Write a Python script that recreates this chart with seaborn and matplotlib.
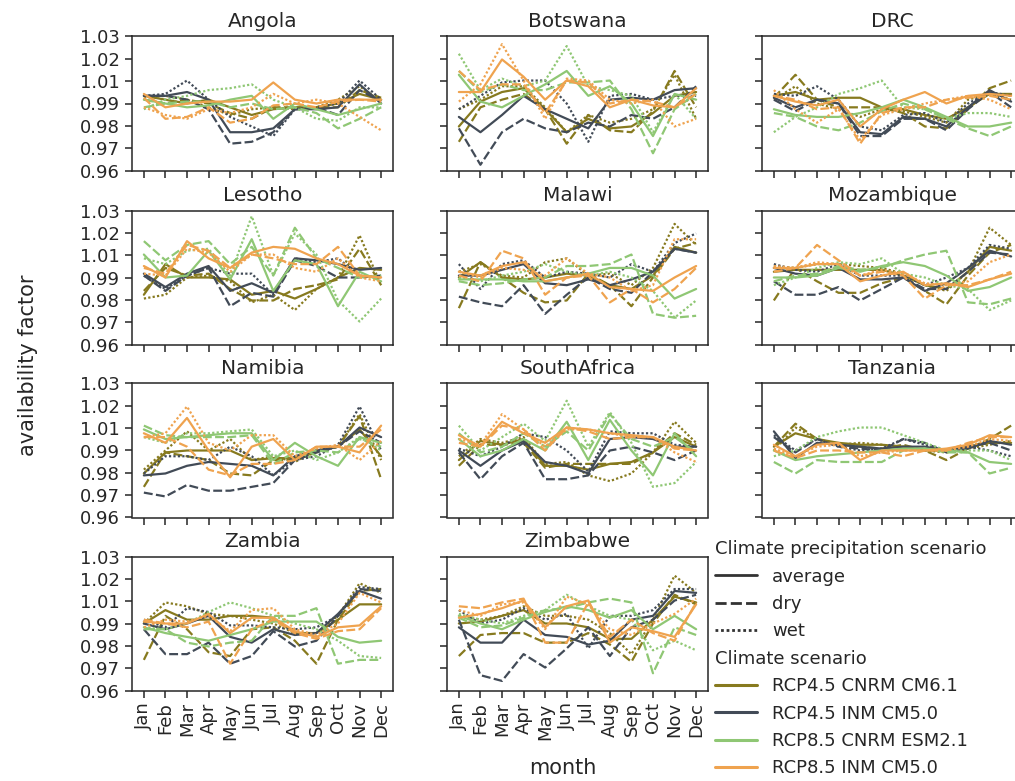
import matplotlib
matplotlib.use("Agg")
import matplotlib.pyplot as plt
import matplotlib.offsetbox as moff
from matplotlib.lines import Line2D
import numpy as np
import pandas as pd
import seaborn as sns

# ---------------- data ----------------
months = ["Jan", "Feb", "Mar", "Apr", "May", "Jun",
          "Jul", "Aug", "Sep", "Oct", "Nov", "Dec"]
countries = ["Angola", "Botswana", "DRC", "Lesotho", "Malawi", "Mozambique",
             "Namibia", "SouthAfrica", "Tanzania", "Zambia", "Zimbabwe"]
scenarios = ["RCP4.5 CNRM CM6.1", "RCP4.5 INM CM5.0",
             "RCP8.5 CNRM ESM2.1", "RCP8.5 INM CM5.0"]
precips = ["average", "dry", "wet"]
ytick_labels = ["0.96", "0.97", "0.98", "0.99", "1.01", "1.02", "1.03"]

# keys: (scenario index, precipitation)
angola = {
    (0, "average"): [0.999, 0.997, 0.995, 0.997, 0.993, 0.989, 0.992, 0.993, 0.993, 0.995, 1.000, 0.997],
    (0, "dry"):     [0.997, 0.995, 0.997, 0.995, 0.990, 0.987, 0.993, 0.993, 0.993, 0.993, 1.002, 0.998],
    (0, "wet"):     [0.998, 0.999, 0.997, 0.993, 0.989, 0.992, 0.993, 0.992, 0.993, 0.997, 1.004, 0.996],
    (1, "average"): [0.999, 0.999, 1.001, 0.997, 0.980, 0.980, 0.982, 0.992, 0.992, 0.993, 1.005, 0.995],
    (1, "dry"):     [0.999, 0.999, 0.997, 0.992, 0.974, 0.975, 0.980, 0.992, 0.993, 0.989, 1.002, 0.996],
    (1, "wet"):     [0.999, 1.000, 1.007, 0.997, 0.988, 0.983, 0.978, 0.992, 0.993, 0.995, 1.007, 0.997],
    (2, "average"): [0.997, 0.995, 0.993, 0.994, 0.997, 0.999, 0.987, 0.995, 0.992, 0.989, 0.992, 0.995],
    (2, "dry"):     [0.993, 0.995, 0.996, 0.996, 0.993, 0.995, 0.992, 0.993, 0.990, 0.982, 0.987, 0.993],
    (2, "wet"):     [0.992, 0.997, 0.999, 1.002, 1.003, 1.005, 0.997, 0.993, 0.987, 0.986, 0.993, 0.993],
    (3, "average"): [1.000, 0.993, 0.995, 0.996, 0.996, 0.997, 1.006, 0.997, 0.995, 0.997, 0.997, 0.997],
    (3, "dry"):     [0.998, 0.987, 0.988, 0.993, 0.985, 0.987, 0.994, 0.995, 0.993, 0.996, 0.997, 0.996],
    (3, "wet"):     [0.993, 0.989, 0.987, 0.992, 0.990, 0.993, 1.000, 0.995, 0.997, 0.995, 0.988, 0.981],
}
botswana = {
    (0, "average"): [0.983, 0.996, 1.001, 1.003, 0.992, 0.980, 0.987, 0.982, 0.983, 0.990, 0.999, 1.001],
    (0, "dry"):     [0.975, 0.993, 0.997, 1.000, 0.992, 0.974, 0.989, 0.981, 0.980, 0.991, 1.012, 0.993],
    (0, "wet"):     [0.992, 0.997, 1.004, 1.004, 0.993, 0.980, 0.989, 0.985, 0.987, 0.992, 1.010, 0.987],
    (1, "average"): [0.988, 0.980, 0.989, 0.999, 0.992, 0.987, 0.982, 0.997, 0.998, 0.997, 1.002, 1.003],
    (1, "dry"):     [0.982, 0.963, 0.980, 0.987, 0.982, 0.980, 0.985, 0.983, 0.989, 0.987, 0.993, 1.004],
    (1, "wet"):     [0.992, 0.999, 1.006, 1.007, 1.007, 0.995, 0.975, 0.999, 1.000, 0.997, 0.999, 0.999],
    (2, "average"): [1.010, 0.996, 0.993, 0.999, 1.005, 1.012, 0.999, 1.004, 0.995, 0.978, 1.000, 0.997],
    (2, "dry"):     [1.012, 1.001, 1.005, 1.002, 1.002, 1.006, 1.006, 1.007, 0.992, 0.969, 0.992, 1.000],
    (2, "wet"):     [1.021, 1.002, 1.008, 1.004, 1.007, 1.025, 1.004, 1.002, 0.999, 0.980, 1.000, 0.987],
    (3, "average"): [1.001, 1.001, 1.018, 1.009, 0.997, 1.007, 1.004, 0.993, 0.997, 0.994, 0.993, 1.003],
    (3, "dry"):     [1.012, 1.002, 1.005, 1.005, 0.990, 1.007, 1.006, 0.995, 0.997, 0.996, 0.993, 1.000],
    (3, "wet"):     [0.996, 1.005, 1.026, 1.007, 0.987, 1.008, 1.007, 0.997, 0.995, 0.997, 0.983, 0.987],
}
drc = {
    (0, "average"): [0.999, 1.001, 0.997, 0.998, 0.998, 0.993, 0.992, 0.989, 0.987, 0.993, 1.000, 1.000],
    (0, "dry"):     [0.998, 1.010, 0.997, 0.993, 0.993, 0.993, 0.990, 0.983, 0.982, 0.992, 1.003, 1.007],
    (0, "wet"):     [0.997, 1.004, 0.995, 0.992, 0.988, 0.992, 0.991, 0.988, 0.985, 0.997, 1.000, 0.997],
    (1, "average"): [0.998, 0.993, 0.997, 0.995, 0.980, 0.979, 0.988, 0.987, 0.983, 0.993, 1.002, 0.996],
    (1, "dry"):     [0.997, 0.991, 0.997, 0.995, 0.978, 0.978, 0.987, 0.987, 0.981, 0.992, 1.001, 0.993],
    (1, "wet"):     [1.000, 0.999, 1.004, 0.997, 0.983, 0.981, 0.989, 0.990, 0.985, 0.995, 1.001, 0.999],
    (2, "average"): [0.992, 0.989, 0.988, 0.988, 0.990, 0.993, 0.997, 0.993, 0.988, 0.983, 0.983, 0.985],
    (2, "dry"):     [0.990, 0.988, 0.983, 0.981, 0.985, 0.991, 0.995, 0.992, 0.987, 0.982, 0.978, 0.983],
    (2, "wet"):     [0.980, 0.988, 0.993, 1.000, 1.003, 1.007, 0.993, 0.992, 0.987, 0.990, 0.990, 0.988],
    (3, "average"): [0.999, 0.996, 0.994, 0.997, 0.983, 0.992, 0.997, 1.001, 0.995, 0.999, 1.000, 0.999],
    (3, "dry"):     [0.999, 0.997, 0.992, 0.993, 0.974, 0.990, 0.993, 0.993, 0.997, 0.998, 0.999, 0.997],
    (3, "wet"):     [1.002, 0.992, 0.985, 0.992, 0.976, 0.989, 0.992, 0.995, 0.997, 0.999, 0.997, 0.992],
}
lesotho = {
    (0, "average"): [0.986, 1.002, 0.995, 0.995, 0.994, 0.986, 0.988, 0.984, 0.989, 0.995, 1.000, 0.999],
    (0, "dry"):     [0.988, 1.000, 0.996, 0.997, 0.989, 0.983, 0.983, 0.989, 0.991, 0.994, 1.010, 0.991],
    (0, "wet"):     [0.984, 0.986, 0.995, 0.996, 0.993, 0.982, 0.986, 0.978, 0.989, 0.995, 1.017, 0.991],
    (1, "average"): [0.997, 0.990, 0.997, 1.001, 0.988, 0.992, 0.987, 1.005, 1.004, 1.002, 0.999, 1.000],
    (1, "dry"):     [0.996, 0.988, 0.996, 1.000, 0.980, 0.987, 0.985, 1.004, 1.001, 0.995, 0.995, 0.996],
    (1, "wet"):     [0.996, 0.989, 0.996, 1.000, 0.997, 0.997, 0.986, 1.005, 1.003, 1.005, 0.996, 0.995],
    (2, "average"): [1.007, 0.995, 0.996, 1.009, 0.994, 1.015, 0.988, 1.004, 1.002, 0.980, 0.998, 0.993],
    (2, "dry"):     [1.014, 1.004, 1.012, 1.014, 1.002, 1.011, 0.996, 1.021, 1.005, 1.000, 0.995, 0.996],
    (2, "wet"):     [1.005, 1.002, 1.009, 1.010, 0.996, 1.027, 0.996, 1.018, 1.007, 0.983, 0.972, 0.984],
    (3, "average"): [1.001, 0.995, 1.014, 1.005, 1.000, 1.008, 1.011, 1.010, 1.005, 1.002, 0.996, 0.995],
    (3, "dry"):     [1.000, 0.997, 1.012, 1.009, 1.000, 1.007, 1.005, 1.002, 1.002, 1.011, 0.996, 0.995],
    (3, "wet"):     [0.997, 0.996, 1.010, 1.008, 0.998, 1.007, 1.007, 1.000, 0.998, 1.005, 0.995, 0.993],
}
malawi = {
    (0, "average"): [0.995, 1.003, 0.995, 0.994, 0.995, 0.997, 0.996, 0.991, 0.989, 0.996, 1.011, 1.008],
    (0, "dry"):     [0.979, 1.003, 0.995, 0.987, 0.982, 0.983, 0.997, 0.991, 0.980, 0.995, 1.010, 1.013],
    (0, "wet"):     [0.998, 1.002, 0.996, 0.995, 1.003, 1.005, 0.996, 0.997, 0.991, 1.000, 1.023, 1.012],
    (1, "average"): [0.996, 0.996, 0.999, 1.002, 0.992, 0.991, 0.994, 0.991, 0.994, 0.998, 1.010, 1.008],
    (1, "dry"):     [0.985, 0.982, 0.980, 0.991, 0.976, 0.986, 0.995, 0.989, 0.987, 0.998, 1.010, 1.008],
    (1, "wet"):     [1.002, 0.989, 1.002, 1.004, 0.995, 0.998, 0.997, 0.995, 1.002, 0.998, 1.013, 1.018],
    (2, "average"): [0.994, 0.994, 0.994, 0.993, 0.993, 0.995, 0.997, 1.000, 1.000, 0.996, 0.984, 0.989],
    (2, "dry"):     [0.993, 0.991, 0.992, 0.994, 0.995, 1.001, 1.001, 1.002, 1.007, 0.976, 0.974, 0.975],
    (2, "wet"):     [0.995, 0.993, 0.996, 0.998, 1.002, 0.998, 0.996, 0.998, 0.995, 0.988, 0.974, 0.983],
    (3, "average"): [0.998, 0.996, 1.001, 1.003, 0.993, 0.995, 0.997, 0.990, 0.989, 0.988, 0.995, 1.001],
    (3, "dry"):     [0.996, 0.993, 1.009, 1.005, 0.986, 0.995, 0.996, 0.982, 0.989, 0.982, 0.989, 1.000],
    (3, "wet"):     [0.998, 0.995, 1.000, 0.999, 0.996, 1.005, 0.997, 0.995, 0.988, 0.991, 1.015, 1.015],
}
mozambique = {
    (0, "average"): [0.998, 0.999, 0.999, 0.999, 0.999, 0.999, 0.996, 0.991, 0.989, 0.998, 1.011, 1.009],
    (0, "dry"):     [0.983, 1.000, 0.993, 0.987, 0.987, 0.992, 0.995, 0.988, 0.981, 0.996, 1.008, 1.012],
    (0, "wet"):     [1.001, 1.000, 1.002, 1.002, 1.001, 1.000, 0.997, 0.991, 0.988, 0.998, 1.021, 1.012],
    (1, "average"): [1.000, 0.997, 0.996, 1.000, 0.994, 0.994, 0.995, 0.988, 0.992, 1.000, 1.009, 1.006],
    (1, "dry"):     [0.993, 0.986, 0.986, 0.990, 0.983, 0.989, 0.995, 0.989, 0.989, 0.998, 1.008, 1.007],
    (1, "wet"):     [1.002, 0.999, 0.998, 1.002, 0.996, 0.996, 0.996, 0.991, 0.995, 1.000, 1.012, 1.010],
    (2, "average"): [0.995, 0.995, 0.996, 1.000, 0.998, 1.001, 1.003, 1.001, 0.996, 0.988, 0.990, 0.995],
    (2, "dry"):     [0.993, 0.996, 0.997, 1.001, 0.999, 1.000, 1.004, 1.007, 1.009, 0.982, 0.981, 0.984],
    (2, "wet"):     [0.991, 0.995, 1.000, 1.003, 1.002, 1.005, 0.997, 0.995, 0.991, 0.989, 0.978, 0.983],
    (3, "average"): [1.000, 1.000, 1.002, 1.002, 0.993, 0.996, 0.998, 0.991, 0.992, 0.990, 0.994, 0.997],
    (3, "dry"):     [0.998, 1.000, 1.012, 1.004, 0.996, 0.998, 0.996, 0.984, 0.991, 0.991, 0.994, 0.998],
    (3, "wet"):     [1.001, 1.000, 1.003, 1.002, 0.996, 0.999, 0.997, 0.992, 0.991, 0.993, 1.003, 1.007],
}
namibia = {
    (0, "average"): [0.983, 0.994, 0.995, 0.995, 0.995, 0.990, 0.991, 0.991, 0.995, 0.997, 1.006, 0.992],
    (0, "dry"):     [0.976, 0.994, 0.992, 0.990, 0.983, 0.982, 0.990, 0.990, 0.994, 0.997, 1.013, 0.980],
    (0, "wet"):     [0.985, 0.995, 1.005, 0.995, 1.001, 0.990, 0.992, 0.989, 0.995, 0.997, 1.014, 0.990],
    (1, "average"): [0.982, 0.983, 0.987, 0.989, 0.988, 0.987, 0.982, 0.992, 0.995, 0.997, 1.007, 1.002],
    (1, "dry"):     [0.973, 0.971, 0.977, 0.974, 0.974, 0.976, 0.978, 0.990, 0.994, 0.997, 1.005, 0.999],
    (1, "wet"):     [0.983, 0.992, 0.992, 0.990, 0.997, 0.992, 0.982, 0.990, 0.992, 0.998, 1.018, 0.995],
    (2, "average"): [1.006, 1.001, 1.002, 1.003, 1.004, 1.004, 0.990, 0.999, 0.992, 0.987, 1.002, 0.999],
    (2, "dry"):     [1.008, 1.003, 1.002, 1.002, 1.002, 1.003, 0.988, 0.994, 0.995, 0.994, 1.001, 0.997],
    (2, "wet"):     [1.002, 0.999, 1.004, 1.004, 1.005, 1.006, 0.992, 0.995, 0.990, 0.994, 1.002, 0.995],
    (3, "average"): [1.004, 0.999, 1.012, 0.995, 0.981, 0.997, 1.001, 0.990, 0.997, 0.997, 0.994, 1.008],
    (3, "dry"):     [1.002, 1.002, 0.997, 0.985, 0.982, 0.988, 0.988, 0.990, 0.997, 0.997, 0.997, 1.006],
    (3, "wet"):     [1.002, 1.004, 1.018, 0.999, 0.995, 1.003, 1.003, 0.992, 0.996, 0.998, 0.990, 1.000],
}
southafrica = {
    (0, "average"): [0.990, 1.000, 0.998, 1.001, 0.987, 0.987, 0.985, 0.988, 0.989, 0.994, 1.002, 0.997],
    (0, "dry"):     [0.987, 0.998, 0.998, 0.999, 0.986, 0.988, 0.988, 0.988, 0.988, 0.994, 1.004, 0.998],
    (0, "wet"):     [0.992, 1.001, 0.999, 1.002, 0.988, 0.989, 0.982, 0.979, 0.983, 0.994, 1.010, 0.999],
    (1, "average"): [0.995, 0.987, 0.995, 1.000, 0.989, 0.987, 0.983, 1.001, 1.002, 1.001, 0.997, 0.997],
    (1, "dry"):     [0.994, 0.980, 0.992, 0.999, 0.980, 0.980, 0.982, 0.995, 0.997, 0.994, 0.990, 0.995],
    (1, "wet"):     [0.996, 0.992, 0.997, 1.004, 1.002, 0.995, 0.984, 1.005, 1.004, 1.004, 0.998, 0.997],
    (2, "average"): [1.001, 0.992, 0.995, 1.001, 0.995, 1.010, 0.990, 1.011, 0.995, 0.982, 1.004, 0.992],
    (2, "dry"):     [1.004, 0.994, 0.997, 1.004, 0.997, 1.005, 0.995, 1.014, 1.001, 0.997, 1.002, 0.994],
    (2, "wet"):     [1.008, 0.995, 1.002, 1.009, 1.000, 1.021, 0.997, 1.015, 0.999, 0.976, 0.978, 0.989],
    (3, "average"): [1.003, 0.997, 1.010, 1.004, 0.999, 1.007, 1.006, 1.004, 1.003, 1.002, 0.997, 0.995],
    (3, "dry"):     [0.999, 0.997, 1.008, 1.006, 0.995, 1.007, 1.005, 1.001, 1.002, 1.002, 0.996, 0.995],
    (3, "wet"):     [1.001, 0.998, 1.014, 1.006, 0.997, 1.006, 1.006, 1.004, 1.002, 1.002, 0.994, 0.989],
}
tanzania = {
    (0, "average"): [0.997, 1.004, 1.001, 0.999, 0.998, 0.998, 0.997, 0.995, 0.995, 0.997, 0.999, 0.999],
    (0, "dry"):     [0.997, 1.009, 1.001, 0.998, 0.997, 0.996, 0.998, 0.995, 0.990, 0.996, 1.001, 1.008],
    (0, "wet"):     [0.995, 1.007, 1.001, 0.998, 0.999, 0.998, 0.997, 0.995, 0.994, 0.996, 0.998, 1.000],
    (1, "average"): [1.005, 0.991, 0.999, 0.998, 0.997, 0.996, 0.997, 0.997, 0.995, 0.996, 1.000, 0.998],
    (1, "dry"):     [1.002, 0.994, 1.001, 0.997, 0.996, 0.995, 1.001, 0.999, 0.994, 0.997, 0.999, 0.995],
    (1, "wet"):     [1.003, 0.995, 1.001, 0.997, 0.995, 0.996, 1.001, 0.998, 0.995, 0.997, 0.995, 0.992],
    (2, "average"): [0.995, 0.990, 0.992, 0.993, 0.994, 0.995, 0.996, 0.996, 0.995, 0.994, 0.989, 0.988],
    (2, "dry"):     [0.989, 0.983, 0.990, 0.989, 0.989, 0.989, 0.995, 0.996, 0.994, 0.994, 0.983, 0.986],
    (2, "wet"):     [0.992, 0.995, 1.002, 1.005, 1.007, 1.007, 1.003, 0.999, 0.995, 0.995, 0.995, 0.990],
    (3, "average"): [0.998, 0.992, 0.998, 0.999, 0.990, 0.995, 0.995, 0.995, 0.996, 0.998, 1.003, 1.002],
    (3, "dry"):     [0.995, 0.991, 0.995, 0.995, 0.994, 0.994, 0.992, 0.995, 0.995, 0.999, 1.002, 1.002],
    (3, "wet"):     [0.996, 0.992, 0.997, 0.998, 0.992, 0.994, 0.995, 0.995, 0.995, 0.997, 1.001, 1.000],
}
zambia = {
    (0, "average"): [0.995, 1.002, 0.997, 0.997, 0.999, 0.999, 0.998, 0.990, 0.990, 0.997, 1.005, 1.005],
    (0, "dry"):     [0.976, 0.999, 0.992, 0.980, 0.978, 0.992, 0.993, 0.986, 0.974, 0.997, 1.012, 1.013],
    (0, "wet"):     [0.995, 1.006, 1.004, 1.000, 0.999, 0.997, 0.995, 0.990, 0.990, 0.999, 1.016, 1.011],
    (1, "average"): [0.995, 0.992, 0.995, 0.999, 0.988, 0.985, 0.992, 0.989, 0.990, 1.000, 1.012, 1.008],
    (1, "dry"):     [0.992, 0.979, 0.979, 0.985, 0.974, 0.978, 0.991, 0.983, 0.986, 0.999, 1.013, 1.012],
    (1, "wet"):     [0.997, 0.993, 1.003, 1.001, 0.994, 0.994, 0.993, 0.992, 0.993, 0.999, 1.014, 1.013],
    (2, "average"): [0.993, 0.990, 0.988, 0.986, 0.989, 0.992, 0.996, 0.996, 0.996, 0.988, 0.985, 0.986],
    (2, "dry"):     [0.992, 0.992, 0.985, 0.983, 0.985, 0.986, 0.999, 0.999, 1.003, 0.974, 0.976, 0.976],
    (2, "wet"):     [0.993, 0.992, 0.995, 1.001, 1.006, 1.003, 0.999, 0.995, 0.992, 0.986, 0.978, 0.977],
    (3, "average"): [0.996, 0.995, 0.995, 1.000, 0.990, 0.998, 0.998, 0.991, 0.988, 0.993, 0.994, 1.004],
    (3, "dry"):     [0.997, 0.995, 0.993, 0.996, 0.974, 0.992, 0.997, 0.990, 0.987, 0.991, 0.992, 1.003],
    (3, "wet"):     [0.993, 0.997, 0.996, 0.999, 0.991, 1.002, 1.003, 0.992, 0.989, 0.995, 1.011, 1.006],
}
zimbabwe = {
    (0, "average"): [0.995, 0.996, 0.999, 1.002, 0.995, 0.995, 0.993, 0.987, 0.987, 0.997, 1.009, 1.006],
    (0, "dry"):     [0.978, 0.989, 0.990, 0.990, 0.985, 0.985, 0.990, 0.984, 0.975, 0.995, 1.010, 1.005],
    (0, "wet"):     [0.999, 0.997, 0.999, 1.004, 0.999, 0.999, 0.997, 0.990, 0.979, 0.997, 1.020, 1.011],
    (1, "average"): [0.993, 0.985, 0.985, 0.997, 0.989, 0.988, 0.984, 0.986, 0.997, 0.999, 1.012, 1.011],
    (1, "dry"):     [0.997, 0.968, 0.965, 0.979, 0.972, 0.982, 0.993, 0.978, 0.993, 0.997, 1.007, 1.010],
    (1, "wet"):     [1.002, 0.995, 0.997, 1.003, 0.997, 1.000, 0.982, 0.999, 0.999, 1.002, 1.013, 1.013],
    (2, "average"): [0.999, 0.995, 0.992, 0.997, 1.001, 1.004, 1.002, 0.998, 1.002, 0.992, 0.999, 0.992],
    (2, "dry"):     [0.998, 0.993, 0.994, 0.998, 1.002, 1.003, 1.006, 1.008, 1.006, 0.969, 0.993, 0.989],
    (2, "wet"):     [1.000, 0.997, 0.995, 0.999, 1.002, 1.010, 1.004, 0.999, 0.997, 0.981, 0.986, 0.981],
    (3, "average"): [0.998, 1.000, 1.003, 1.007, 0.993, 1.004, 1.007, 0.985, 0.993, 0.991, 0.988, 1.005],
    (3, "dry"):     [1.004, 1.003, 1.006, 1.008, 0.985, 0.985, 1.006, 0.988, 0.997, 0.990, 0.986, 1.006],
    (3, "wet"):     [1.002, 0.999, 1.005, 1.006, 0.992, 1.009, 1.005, 0.992, 0.989, 0.995, 1.000, 1.008],
}
country_data = [angola, botswana, drc, lesotho, malawi, mozambique,
                namibia, southafrica, tanzania, zambia, zimbabwe]

# ---------------- styling ----------------
palette = dict(zip(scenarios, ["#877a1f", "#424b57", "#8fc774", "#efa34f"]))
dash_map = {"average": "", "dry": (4, 1.5), "wet": (1, 1)}

rows = []
for country, d in zip(countries, country_data):
    for (si, p), vals in d.items():
        for m, v in zip(months, vals):
            rows.append((country, scenarios[si], p, m, v))
df = pd.DataFrame(rows, columns=["country", "scenario", "precip", "month", "value"])

sns.set_theme(style="ticks")
plt.rcParams["font.family"] = ["DejaVu Sans"]
plt.rcParams["axes.edgecolor"] = "#262626"
plt.rcParams["axes.linewidth"] = 1.1

W, H = 1015, 781
fig = plt.figure(figsize=(W / 100, H / 100), dpi=100)

col_left = [132, 447, 762]
row_top = [36.5, 210.5, 383.5, 556.5]
aw, ah = 261, 134

tick_fs = 13
for i, country in enumerate(countries):
    r, c = divmod(i, 3)
    ax = fig.add_axes([col_left[c] / W, 1 - (row_top[r] + ah) / H, aw / W, ah / H])
    sub = df[df["country"] == country]
    sns.lineplot(data=sub, x="month", y="value", hue="scenario", style="precip",
                 hue_order=scenarios, style_order=precips, palette=palette,
                 dashes=dash_map, sort=False, legend=False, lw=1.6, ax=ax)
    ax.set_ylim(0.96, 1.03)
    ax.set_yticks(np.linspace(0.96, 1.03, 7))
    ax.set_yticklabels(ytick_labels)
    ax.set_xlabel("")
    ax.set_ylabel("")
    ax.set_title(country, fontsize=14.5, pad=7, color="#262626")
    ax.tick_params(axis="both", direction="out", length=5, width=1.1,
                   labelsize=tick_fs, colors="#262626")
    ax.tick_params(axis="x", labelrotation=90)
    if c != 0:
        ax.tick_params(labelleft=False)
    if country not in ("Zambia", "Zimbabwe"):
        ax.tick_params(labelbottom=False)

fig.text(28 / W, 1 - 365 / H, "availability factor", rotation=90,
         ha="center", va="center", fontsize=15, color="#262626")
fig.text(563 / W, 1 - 768 / H, "month", ha="center", va="center",
         fontsize=15, color="#262626")

# ---------------- legend ----------------
def sub_handle():
    return Line2D([], [], visible=False)

handles = [sub_handle()]
labels = ["Climate precipitation scenario"]
for p in precips:
    handles.append(Line2D([], [], color="#333333", lw=2,
                          dashes=dash_map[p] if dash_map[p] else (None, None)))
    labels.append(p)
handles.append(sub_handle())
labels.append("Climate scenario")
for s in scenarios:
    handles.append(Line2D([], [], color=palette[s], lw=2.2))
    labels.append(s)

leg_fs = 13
fs_px = leg_fs * 100 / 72
leg = fig.legend(handles, labels, loc="upper left",
                 bbox_to_anchor=((715 - 0.9 * fs_px) / W, 1 - 524 / H),
                 frameon=False, fontsize=leg_fs, handlelength=2.3,
                 handletextpad=0.85, labelspacing=0.52, borderpad=0.4,
                 borderaxespad=0.5)
for t in leg.get_texts():
    t.set_color("#262626")
vp = leg.findobj(moff.VPacker)[0]
for hpack in vp.get_children():
    draw_area, text_area = hpack.get_children()
    if not all(a.get_visible() for a in draw_area.get_children()):
        draw_area.set_width(0)
        hpack.sep = 0

fig.savefig("out.png", dpi=100)
